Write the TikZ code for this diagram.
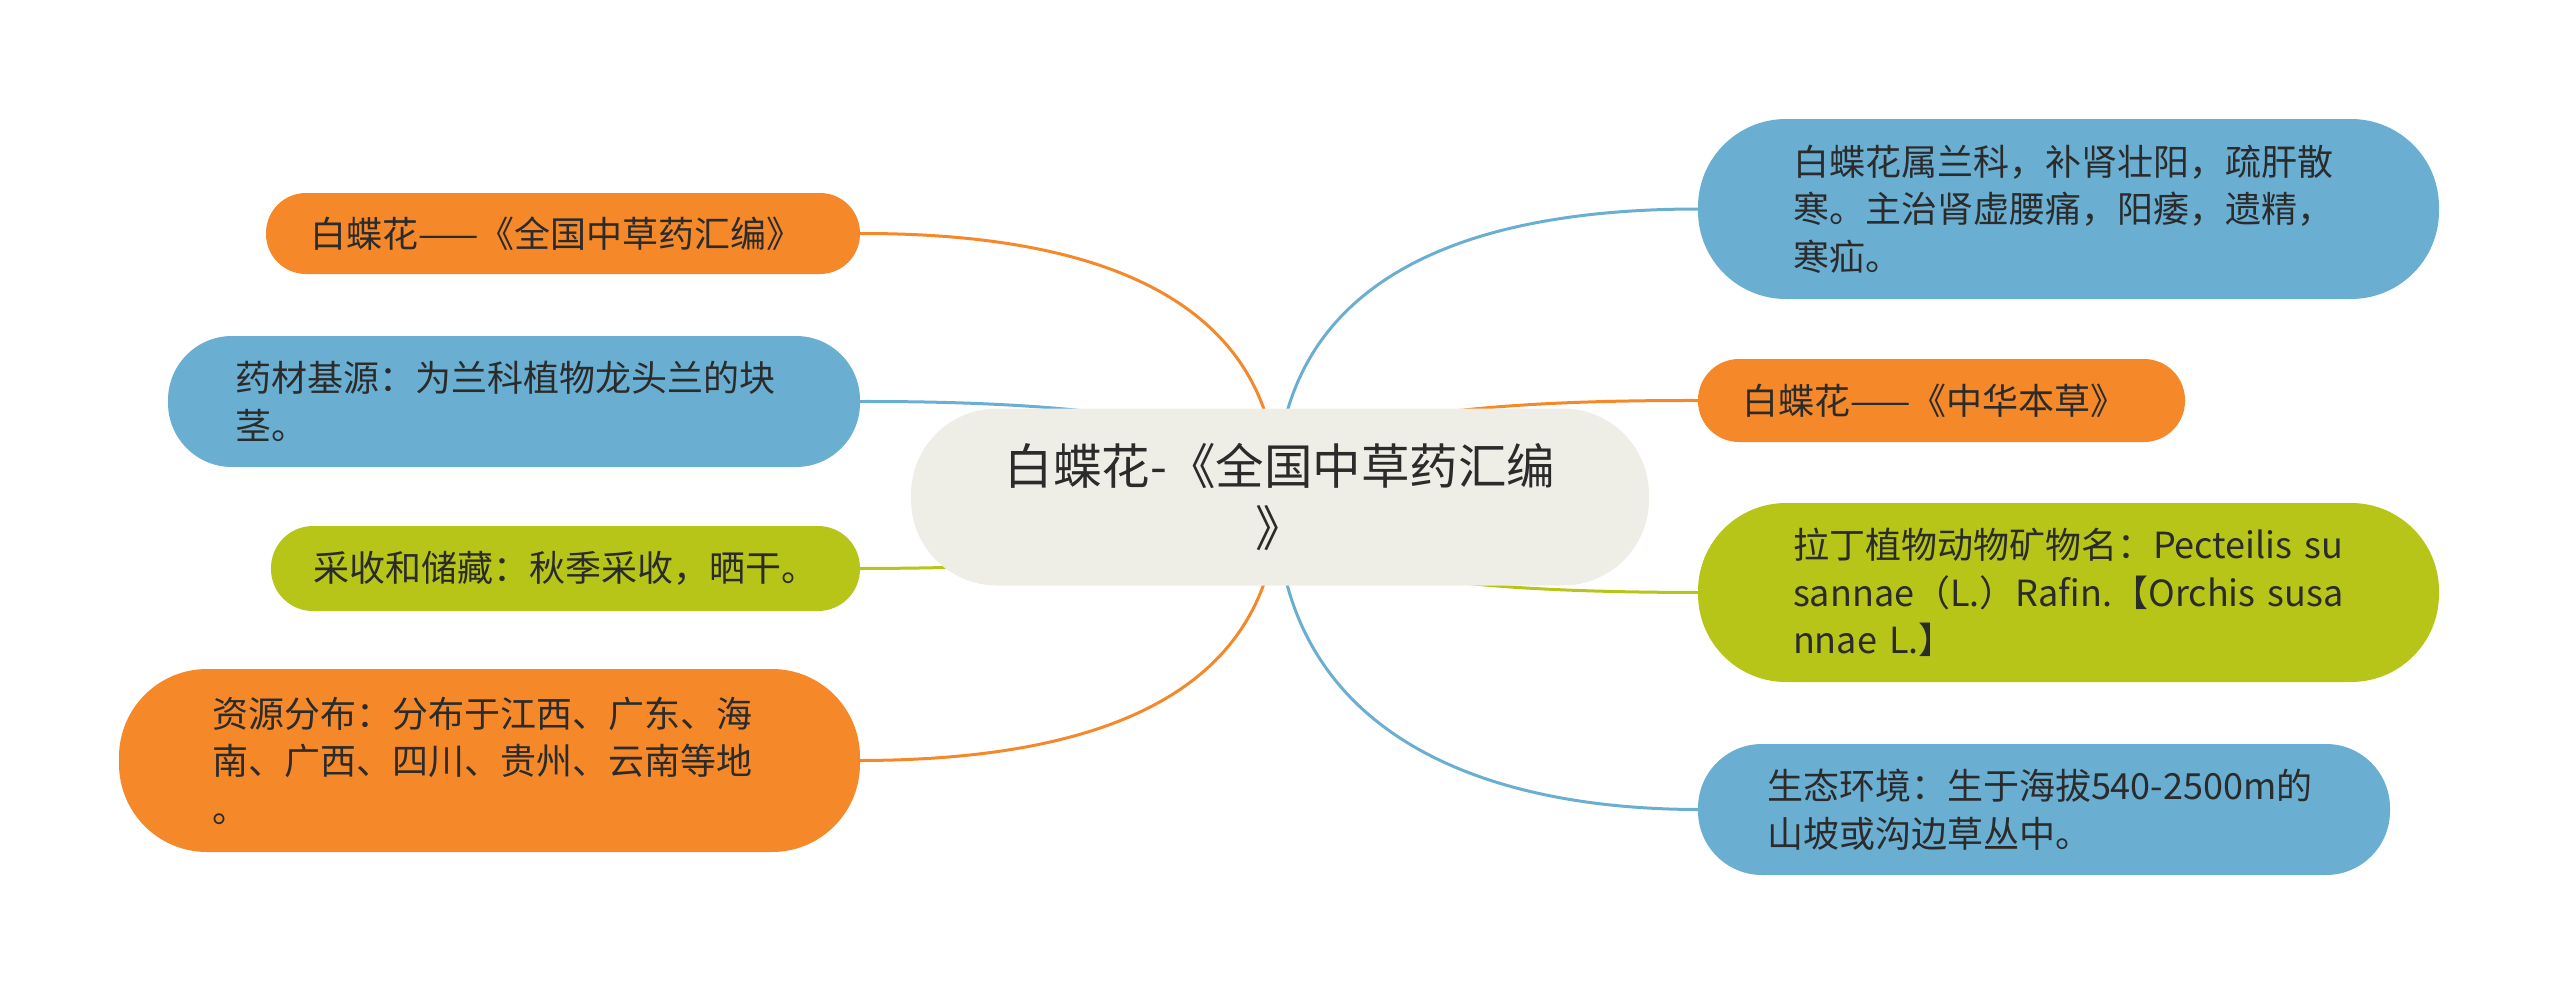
\documentclass[tikz,border=0pt]{standalone}
\usepackage{fontspec}
\newfontfamily\cjk{Noto Sans CJK SC}
\usetikzlibrary{backgrounds}
\definecolor{mmorange}{HTML}{F5892A}
\definecolor{mmblue}{HTML}{6AAFD2}
\definecolor{mmgreen}{HTML}{B7C518}
\definecolor{mmcenter}{HTML}{EFEEE6}
\definecolor{mmtext}{HTML}{2B2B2B}
\tikzset{
  leaf/.style={rectangle, text=mmtext, align=left, inner ysep=0pt,
    font=\cjk\fontsize{36}{47.5}\selectfont},
  hub/.style={rectangle, fill=mmcenter, text=mmtext, align=center,
    minimum width=738pt, minimum height=177pt, rounded corners=86pt,
    font=\cjk\fontsize{48.5}{62}\selectfont},
  link/.style={line width=3pt},
}
\begin{document}
\begin{tikzpicture}[x=1pt,y=-1pt]
\useasboundingbox (0,0) rectangle (2560,996);
% central node
\node[hub] (c) at (1280,497) {白蝶花-《全国中草药汇编\\》};
\coordinate (cl) at (1278,496);
\coordinate (cr) at (1276,496);
% left nodes
\node[leaf, fill=mmorange, minimum height=81pt, rounded corners=40pt,
  inner xsep=44pt, text width=506pt] (l1) at (563,233.5) {白蝶花——《全国中草药汇编》};
\node[leaf, fill=mmblue, minimum height=131pt, rounded corners=64pt,
  inner xsep=67pt, text width=558pt] (l2) at (514,401.5) {药材基源：为兰科植物龙头兰的块\\茎。};
\node[leaf, fill=mmgreen, minimum height=85pt, rounded corners=42pt,
  inner xsep=42pt, text width=505pt] (l3) at (565.5,568.5) {采收和储藏：秋季采收，晒干。};
\node[leaf, fill=mmorange, minimum height=183pt, rounded corners=88pt,
  inner xsep=93pt, text width=555pt] (l4) at (489.5,760.5) {资源分布：分布于江西、广东、海\\南、广西、四川、贵州、云南等地\\。};
% right nodes
\node[leaf, fill=mmblue, minimum height=180pt, rounded corners=88pt,
  inner xsep=95pt, text width=551pt] (r1) at (2068.5,209) {白蝶花属兰科，补肾壮阳，疏肝散\\寒。主治肾虚腰痛，阳痿，遗精，\\寒疝。};
\node[leaf, fill=mmorange, minimum height=83pt, rounded corners=41pt,
  inner xsep=44pt, text width=399pt] (r2) at (1941.5,400.5) {白蝶花——《中华本草》};
\node[leaf, fill=mmgreen, minimum height=179pt, rounded corners=88pt,
  inner xsep=95pt, text width=551pt] (r3) at (2068.5,592.5) {拉丁植物动物矿物名：Pecteilis su\\sannae（L.）Rafin.【Orchis susa\\nnae L.】};
\node[leaf, fill=mmblue, minimum height=131pt, rounded corners=64pt,
  inner xsep=69pt, text width=554pt] (r4) at (2044,809.5) {生态环境：生于海拔540-2500m的\\山坡或沟边草丛中。};
% connectors
\begin{scope}[on background layer]
\draw[link, mmorange] (cl) .. controls (1278,300) and (1100,233) .. (l1.east);
\draw[link, mmblue]   (cl) .. controls (1278,425) and (1100,401) .. (l2.east);
\draw[link, mmgreen]  (cl) .. controls (1278,550) and (1100,568) .. (l3.east);
\draw[link, mmorange] (cl) .. controls (1278,694) and (1100,760) .. (l4.east);
\draw[link, mmblue]   (cr) .. controls (1276,281) and (1460,209) .. (r1.west);
\draw[link, mmorange] (cr) .. controls (1276,420) and (1460,400) .. (r2.west);
\draw[link, mmgreen]  (cr) .. controls (1276,575) and (1460,592) .. (r3.west);
\draw[link, mmblue]   (cr) .. controls (1276,720) and (1460,809) .. (r4.west);
\end{scope}
\end{tikzpicture}
\end{document}
